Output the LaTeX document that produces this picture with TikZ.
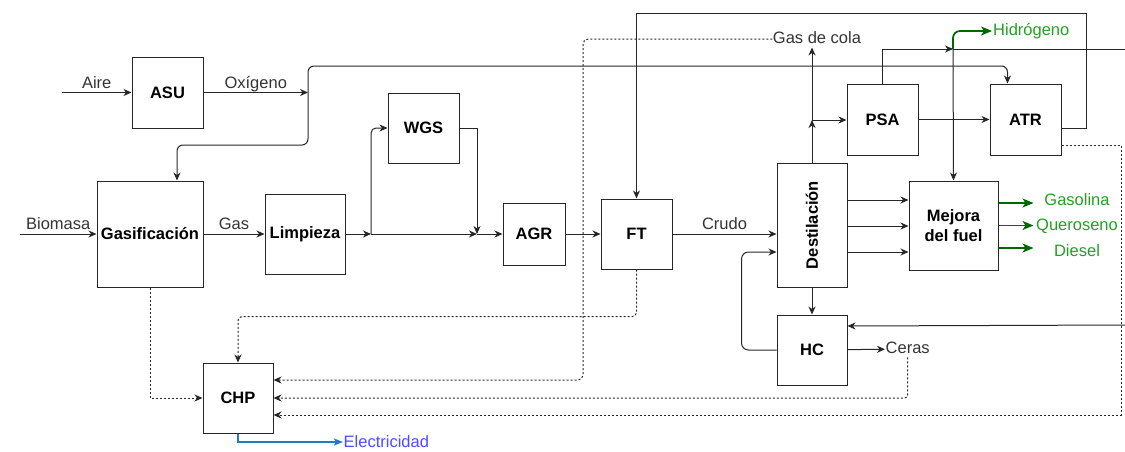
\documentclass[tikz,border=0pt]{standalone}
\usepackage{fontspec}
\setmainfont{Liberation Sans}
\usepackage{xcolor}
\definecolor{flowgray}{HTML}{333333}
\definecolor{h2green}{HTML}{006600}
\definecolor{prodgreen}{HTML}{22A022}
\definecolor{elecline}{HTML}{1F7CC0}
\definecolor{electext}{HTML}{4C4CFF}
\usepackage{tikz}
\usetikzlibrary{arrows.meta, positioning}

\begin{document}
\begin{tikzpicture}[
            x=1pt, y=-1pt,
            every node/.style={font=\fontsize{16.5}{20}\selectfont},
            blk/.style={rectangle, draw=black!85, line width=1pt, fill=white, minimum width=71pt, minimum height=71pt, inner sep=0pt, align=center, font=\fontsize{16.5}{20}\selectfont\bfseries},
            lbl/.style={text=flowgray, inner sep=0.5pt, text height=12pt, text depth=3.5pt},
            prod/.style={text=prodgreen, inner sep=1pt},
            arrow/.style={-{Stealth[length=8pt, width=7pt, inset=2.5pt]}, line width=1pt, draw=black!85},
            dotarrow/.style={arrow, dash pattern=on 2pt off 2pt},
            greenarrow/.style={-{Stealth[length=11pt, width=9pt, inset=3pt]}, line width=1.7pt, draw=h2green},
            bluearrow/.style={-{Stealth[length=9pt, width=7pt, inset=2pt]}, line width=2pt, draw=elecline}
        ]
        \useasboundingbox (0,0) rectangle (1125,451);

        % --- 1. GASIFICATION TRAIN ---
        \node[blk] (asu) at (167.5,92.5) {ASU};
        \node[blk, minimum width=106pt, minimum height=106pt] (gasif) at (150,234) {Gasificación};
        \node[blk, minimum width=80pt, minimum height=80pt, right=61pt of gasif] (limp) {Limpieza};
        \node[blk, minimum height=70pt] (wgs) at (423.5,128) {WGS};
        \node[blk, minimum width=62pt, minimum height=62pt] (agr) at (534,234) {AGR};
        \node[blk, minimum height=70pt, right=35pt of agr] (ft) {FT};

        % --- 2. UPGRADING ---
        \node[blk, minimum width=70pt, minimum height=124pt] (dest) at (812,225) {\rotatebox{90}{Destilación}};
        \node[blk] (psa) at (882.5,119.5) {PSA};
        \node[blk, right=71pt of psa] (atr) {ATR};
        \node[blk, minimum width=89pt, minimum height=89pt] (mej) at (953.5,225.5) {Mejora\\del fuel};
        \node[blk, minimum width=70pt, minimum height=70pt, below=27pt of dest] (hc) {HC};
        \node[blk, minimum width=70pt, minimum height=70pt] (chp) at (238,398) {CHP};

        % --- 3. STREAM LABELS ---
        \node[lbl] (cola) at (817,39) {Gas de cola};
        \node[lbl, anchor=west] (ceras) at (885,349) {Ceras};
        \node[text=prodgreen, anchor=west, inner sep=1pt] (hid) at (992,31) {Hidrógeno};
        \node[prod] (gasol) at (1077,200) {Gasolina};
        \node[prod] (quer) at (1077,226) {Queroseno};
        \node[prod] (dies) at (1077,251) {Diesel};
        \node[text=electext, anchor=west, inner sep=0.5pt] (elec) at (343,442) {Electricidad};

        \coordinate (aire) at (62,92.5);
        \coordinate (bio) at (20,234);
        \coordinate (oxj) at (308,92.5);
        \coordinate (lj) at (371,234);
        \coordinate (mj) at (477,234);
        \coordinate (dj) at (812,120);
        \coordinate (hj) at (953,49);
        \coordinate (h2out) at (1125,49);
        \coordinate (h2in) at (1125,325);

        % --- ROUTING ARROWS ---
        \draw[arrow] (aire) -- node[lbl, above] {Aire} (asu);
        \draw[arrow] (asu) -- node[lbl, above] {Oxígeno} (oxj);
        \draw[arrow, rounded corners=6pt] (oxj) -- (308,145) -| ([xshift=27pt]gasif.north);
        \draw[arrow, rounded corners=6pt] (oxj) -- (308,66) -| ([xshift=-18pt]atr.north);
        \draw[arrow] (bio) -- node[lbl, above] {Biomasa} (gasif);
        \draw[arrow] (gasif) -- node[lbl, above] {Gas} (limp);
        \draw[arrow] (limp) -- (lj);
        \draw[arrow, rounded corners=5pt] (lj) |- (wgs);
        \draw[arrow] (lj) -- (mj);
        \draw[arrow] (wgs.east) -| (mj);
        \draw[arrow] (mj) -- (agr);
        \draw[arrow] (agr) -- (ft);
        \draw[arrow] (ft) -- node[lbl, above] {Crudo} (ft -| dest.west);
        \draw[arrow] ([yshift=-8.5pt]atr.east) -| (1086,13) -| (ft.north);

        \draw[arrow] (dest) -- (dj);
        \draw[arrow] (dj) -- (dj |- cola.south);
        \draw[arrow] (dj) -- (dj -| psa.west);
        \draw[arrow] (psa) -- (atr);
        \draw[arrow] (psa.north) |- (hj);
        \draw[line width=1pt, draw=black!85] (hj) -- (h2out);
        \draw[arrow] (hj) -- (mej.north);
        \draw[greenarrow, rounded corners=7pt] (hj) |- (hid.west);

        \foreach \dy in {25,-1,-27}
            \draw[arrow] ([yshift=\dy pt]dest.east) -- ([yshift=\dy pt]dest.east -| mej.west);
        \foreach \dy in {22.5,0,-22.5}
            \draw[greenarrow] ([yshift=\dy pt]mej.east) -- ([yshift=\dy pt, xshift=35pt]mej.east);

        \draw[arrow] (dest) -- (hc);
        \draw[arrow, rounded corners=7pt] (hc.west) -- ++(-35,0) |- ([yshift=-27pt]dest.west);
        \draw[arrow] (h2in) -- ([yshift=24pt]hc.east);
        \draw[arrow] (hc) -- (ceras);

        % residual streams to CHP
        \draw[dotarrow, rounded corners=5pt] (cola.west) -| (583,380) -- ([yshift=18pt]chp.east);
        \draw[dotarrow, rounded corners=3pt] (ceras.south) |- (chp.east);
        \draw[dotarrow] ([yshift=-26pt]atr.east) -| (1121,415) -- ([yshift=-17pt]chp.east);
        \draw[dotarrow] (gasif.south) |- (chp.west);
        \draw[dotarrow, rounded corners=4pt] (ft.south) -- ++(0,47) -| (chp.north);
        \draw[bluearrow] (chp.south) |- (elec.west);

        \end{tikzpicture}
\end{document}
